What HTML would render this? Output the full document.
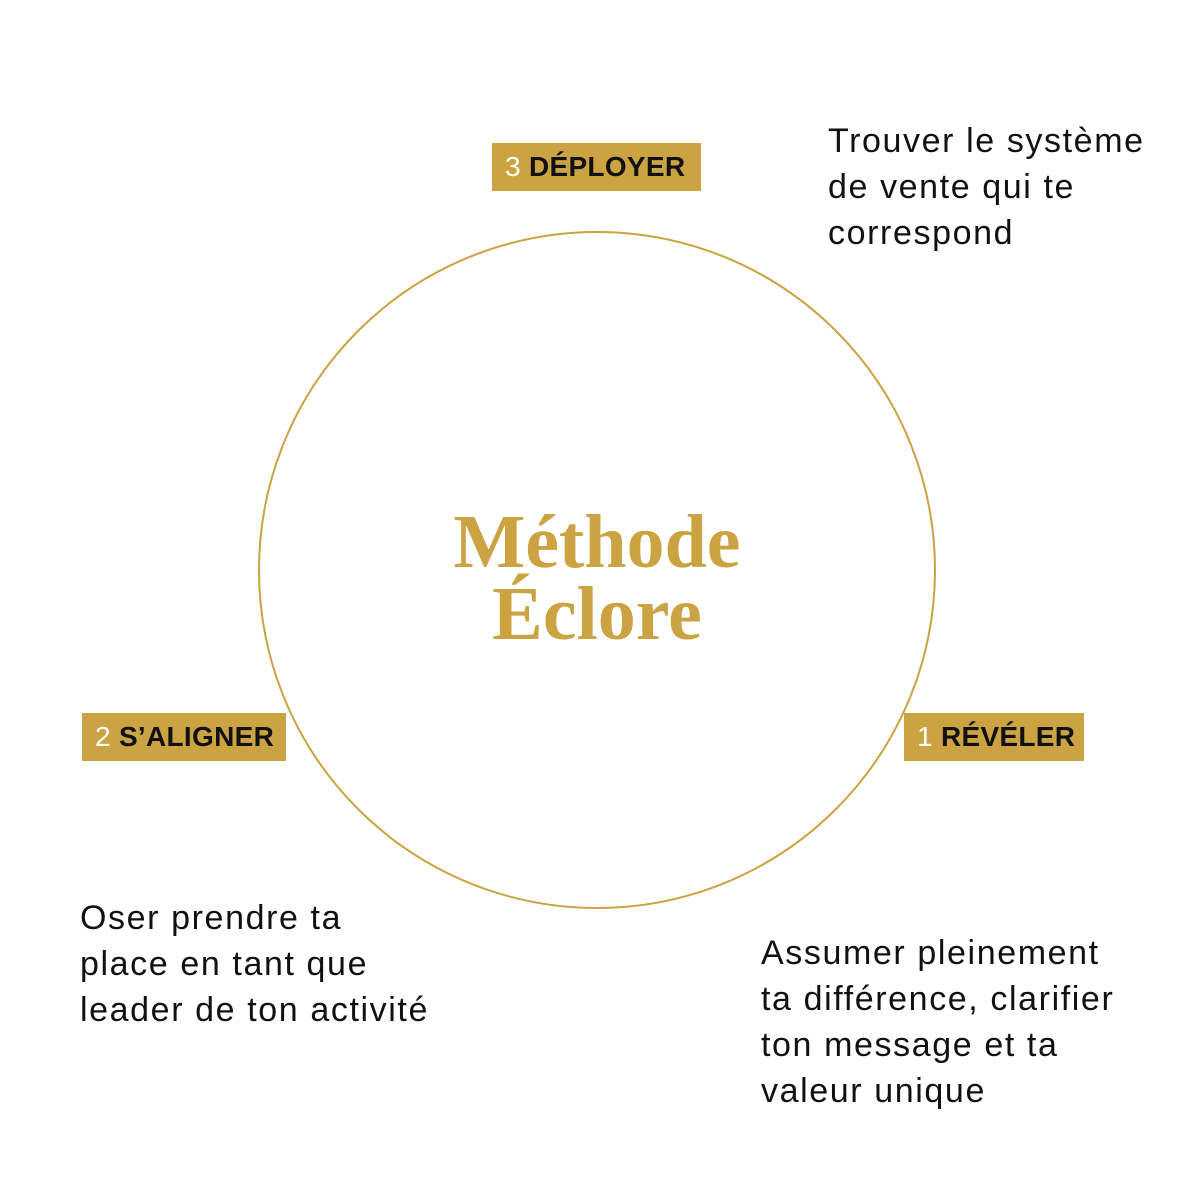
<!DOCTYPE html>
<html><head><meta charset="utf-8"><style>
body{margin:0;width:1200px;height:1200px;background:#fff;position:relative;overflow:hidden;font-family:"Liberation Sans",sans-serif}
.tag{position:absolute;height:48px;background:#CBA342;color:#111;font-weight:bold;font-size:28px;line-height:48px;box-sizing:border-box;padding-left:13px;white-space:nowrap;letter-spacing:0.3px}
.tag span{color:#fff;font-weight:normal}
.t{position:absolute;font-size:34px;line-height:46px;color:#111;white-space:nowrap;letter-spacing:1.6px}
.title{position:absolute;left:0;width:1194px;text-align:center;font-family:"Liberation Serif",serif;font-weight:bold;color:#CBA342;font-size:76px;line-height:72px}
</style></head><body>
<svg width="1200" height="1200" style="position:absolute;left:0;top:0"><circle cx="597" cy="570" r="338" fill="none" stroke="#CBA342" stroke-width="2"/></svg>
<div class="tag" style="left:492px;top:143px;width:209px"><span>3</span> DÉPLOYER</div>
<div class="tag" style="left:82px;top:713px;width:204px"><span>2</span> S’ALIGNER</div>
<div class="tag" style="left:904px;top:713px;width:180px"><span>1</span> RÉVÉLER</div>
<div class="t" style="left:828px;top:118px">Trouver le système<br>de vente qui te<br>correspond</div>
<div class="t" style="left:80px;top:895px">Oser prendre ta<br>place en tant que<br>leader de ton activité</div>
<div class="t" style="left:761px;top:930px">Assumer pleinement<br>ta différence, clarifier<br>ton message et ta<br>valeur unique</div>
<div class="title" style="top:506px">Méthode<br>Éclore</div>
</body></html>
